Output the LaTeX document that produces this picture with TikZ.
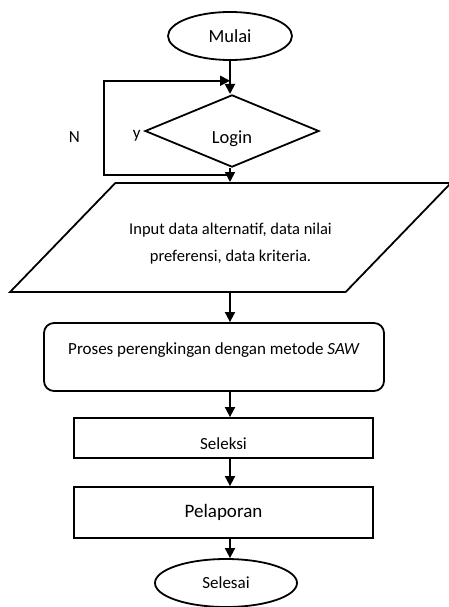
\documentclass[tikz,border=0pt]{standalone}
\usepackage{fontspec}
\setmainfont{Carlito}
\usetikzlibrary{shapes.geometric, arrows.meta, positioning, calc}

\begin{document}
\begin{tikzpicture}[
        x=1pt, y=-1pt,
        node distance=2cm, >={Triangle[length=10pt,width=10pt]},
        font=\fontsize{17}{24}\selectfont,
        terminal/.style={ellipse, draw, line width=1.8pt, minimum width=124pt, minimum height=48pt, inner sep=0pt},
        decision/.style={diamond, draw, line width=1.8pt, minimum width=174pt, minimum height=66pt, inner sep=0pt, text height=28pt, text depth=4pt},
        io/.style={trapezium, trapezium left angle=46, trapezium right angle=134, trapezium stretches body=true, draw, line width=1.8pt, minimum width=441pt, inner ysep=28pt, align=center},
        process/.style={rectangle, draw, line width=1.8pt, rounded corners=10pt, minimum width=340pt, text height=31pt, text depth=37pt, inner ysep=0pt},
        block/.style={rectangle, draw, line width=1.8pt, minimum width=299pt, minimum height=40pt},
        line/.style={draw, line width=1.8pt, ->},
    ]
    \useasboundingbox (0,0) rectangle (448,607);

    % Nodes
    \node [terminal, font=\fontsize{18.5}{22}\selectfont] (mulai) at (230,36) {Mulai};
    \node [decision, below of=mulai, node distance=95pt, xshift=2pt, font=\fontsize{18.5}{22}\selectfont] (login) {Login};
    \node [io, below of=login, node distance=106.5pt, xshift=-1.5pt, font=\fontsize{16.5}{27}\selectfont] (input) {\rule{0pt}{23.5pt}Input data alternatif, data nilai\\preferensi, data kriteria.};
    \node [process, below of=input, node distance=119.5pt, xshift=-16.5pt] (proses) {Proses perengkingan dengan metode \textit{SAW}};
    \node [block, below of=proses, node distance=81pt, xshift=9.5pt, text height=22pt, text depth=0pt] (seleksi) {Seleksi};
    \node [block, below of=seleksi, node distance=74.5pt, minimum height=51pt, font=\fontsize{19}{22}\selectfont] (pelaporan) {Pelaporan};
    \node [terminal, below of=pelaporan, node distance=70.5pt, xshift=2.5pt, minimum width=142pt] (selesai) {Selesai};
    \node [left=0pt of login.west, yshift=-5pt] (ylabel) {y};

    \coordinate (jtop) at ($(mulai.south)!0.6!(mulai.south |- login.north)$);
    \coordinate (jn) at ($(mulai.south |- login.south)!0.5!(mulai.south |- input.north)$);

    % Arrows
    \path [line] (mulai.south) -- (mulai.south |- login.north);
    \path [line] (mulai.south |- login.south) -- (mulai.south |- input.north);
    \path [line] (jn) -- ++(-126,0) |- node [pos=0.2, left=20pt] {N} (jtop);
    \path [line] (mulai.south |- input.south) -- (mulai.south |- proses.north);
    \path [line] (mulai.south |- proses.south) -- (mulai.south |- seleksi.north);
    \path [line] (mulai.south |- seleksi.south) -- (mulai.south |- pelaporan.north);
    \path [line] (mulai.south |- pelaporan.south) -- (mulai.south |- selesai.north);

    \end{tikzpicture}
\end{document}
